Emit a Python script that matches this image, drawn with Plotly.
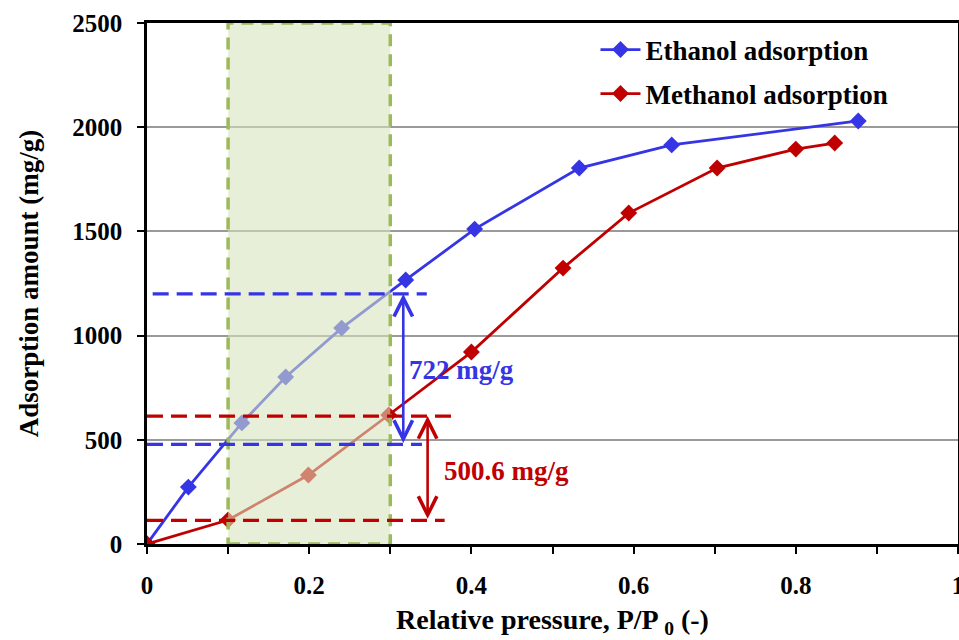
import plotly.graph_objects as go

# Adsorption isotherms (relative pressure vs. uptake in mg/g)
ethanol_p = [0, 0.051, 0.117, 0.171, 0.240, 0.319, 0.404, 0.533, 0.647, 0.877]
ethanol_q = [0, 273, 581, 801, 1036, 1267, 1511, 1804, 1915, 2030]
methanol_p = [0, 0.100, 0.199, 0.298, 0.400, 0.513, 0.594, 0.703, 0.800, 0.848]
methanol_q = [0, 115, 331, 619, 921, 1324, 1588, 1804, 1895, 1924]

# Working window of relative pressure
window_p = [0.1, 0.3]

# Uptake levels bounding the working capacity
ethanol_levels = [478, 1200]
methanol_levels = [113.4, 614]
ethanol_capacity = "722 mg/g"
methanol_capacity = "500.6 mg/g"

x_ticks = [0, 0.2, 0.4, 0.6, 0.8, 1]
y_ticks = [0, 500, 1000, 1500, 2000, 2500]

BLUE = "#3535E6"
RED = "#C00000"
GREEN = "#9BBB59"
FONT = "Liberation Serif"

fig = go.Figure()
fig.add_trace(go.Scatter(
    x=ethanol_p, y=ethanol_q, mode="lines+markers", name="Ethanol adsorption",
    line=dict(color=BLUE, width=2.8),
    marker=dict(symbol="diamond", size=13, color=BLUE),
    legend="legend", showlegend=True,
))
fig.add_trace(go.Scatter(
    x=methanol_p, y=methanol_q, mode="lines+markers", name="Methanol adsorption",
    line=dict(color=RED, width=2.8),
    marker=dict(symbol="diamond", size=13, color=RED),
    legend="legend2", showlegend=True,
))

shapes = [
    # translucent working window drawn over the curves
    dict(type="rect", xref="x", yref="y", x0=window_p[0], x1=window_p[1], y0=0, y1=2500,
         layer="above", fillcolor="rgba(215,228,190,0.58)",
         line=dict(color=GREEN, width=3.5, dash="12px,8px")),
    # uptake levels at the window edges
    dict(type="line", xref="x", yref="y", x0=0.007, x1=0.345,
         y0=ethanol_levels[1], y1=ethanol_levels[1], layer="above",
         line=dict(color=BLUE, width=3.2, dash="16px,8px")),
    dict(type="line", xref="x", yref="y", x0=0.0, x1=0.339,
         y0=ethanol_levels[0], y1=ethanol_levels[0], layer="above",
         line=dict(color=BLUE, width=3.2, dash="16px,8px")),
    dict(type="line", xref="x", yref="y", x0=0.0, x1=0.382,
         y0=methanol_levels[1], y1=methanol_levels[1], layer="above",
         line=dict(color=RED, width=3.2, dash="16px,8px")),
    dict(type="line", xref="x", yref="y", x0=0.0, x1=0.367,
         y0=methanol_levels[0], y1=methanol_levels[0], layer="above",
         line=dict(color=RED, width=3.2, dash="16px,8px")),
]

annotations = [
    dict(x=0.316, y=ethanol_levels[1], ax=0.316, ay=ethanol_levels[0],
         xref="x", yref="y", axref="x", ayref="y", text="", showarrow=True,
         arrowside="end+start", arrowhead=5, arrowsize=1.4, arrowwidth=2.6,
         arrowcolor=BLUE),
    dict(x=0.346, y=methanol_levels[1], ax=0.346, ay=methanol_levels[0],
         xref="x", yref="y", axref="x", ayref="y", text="", showarrow=True,
         arrowside="end+start", arrowhead=5, arrowsize=1.4, arrowwidth=2.6,
         arrowcolor=RED),
    dict(x=0.321, y=836, xref="x", yref="y", text=ethanol_capacity, showarrow=False,
         xanchor="left", yanchor="middle",
         font=dict(family=FONT, size=27, color=BLUE, weight="bold")),
    dict(x=0.364, y=349, xref="x", yref="y", text=methanol_capacity, showarrow=False,
         xanchor="left", yanchor="middle",
         font=dict(family=FONT, size=27, color=RED, weight="bold")),
]

legend_style = dict(
    xanchor="left", yanchor="middle", bgcolor="rgba(255,255,255,0)",
    font=dict(family=FONT, size=27, color="black", weight="bold"),
    itemwidth=40,
)

fig.update_layout(
    width=959, height=640,
    margin=dict(l=147, r=1, t=23, b=96),
    paper_bgcolor="white", plot_bgcolor="white",
    font=dict(family=FONT, color="black"),
    shapes=shapes,
    annotations=annotations,
    showlegend=True,
    legend=dict(x=0.553, y=(544 - 50) / 521, **legend_style),
    legend2=dict(x=0.553, y=(544 - 94) / 521, **legend_style),
    xaxis=dict(
        range=[0, 1], tickvals=x_ticks, ticktext=[f"{v:g}" for v in x_ticks],
        ticks="outside", ticklen=7, tickwidth=2, tickcolor="black",
        minor=dict(dtick=0.1, ticks="outside", ticklen=7, tickwidth=2, tickcolor="black"),
        showgrid=False, zeroline=False, automargin=False,
        showline=True, linecolor="black", linewidth=2.5, mirror=True,
        tickfont=dict(family=FONT, size=25, color="black", weight="bold"),
        ticklabelstandoff=10, ticklabeloverflow="allow",
        title=dict(text="Relative pressure, P/P <sub>0</sub> (-)", standoff=12,
                   font=dict(family=FONT, size=28, color="black", weight="bold")),
    ),
    yaxis=dict(
        range=[0, 2500], tickvals=y_ticks,
        ticks="outside", ticklen=7, tickwidth=2, tickcolor="black",
        showgrid=True, gridcolor="#9A9A9A", gridwidth=1.5, zeroline=False,
        automargin=False,
        showline=True, linecolor="black", linewidth=2.5, mirror=True,
        tickfont=dict(family=FONT, size=25, color="black", weight="bold"),
        ticklabelstandoff=10,
        title=dict(text="Adsorption amount (mg/g)", standoff=26,
                   font=dict(family=FONT, size=27, color="black", weight="bold")),
    ),
)

fig.write_html("out.html")
